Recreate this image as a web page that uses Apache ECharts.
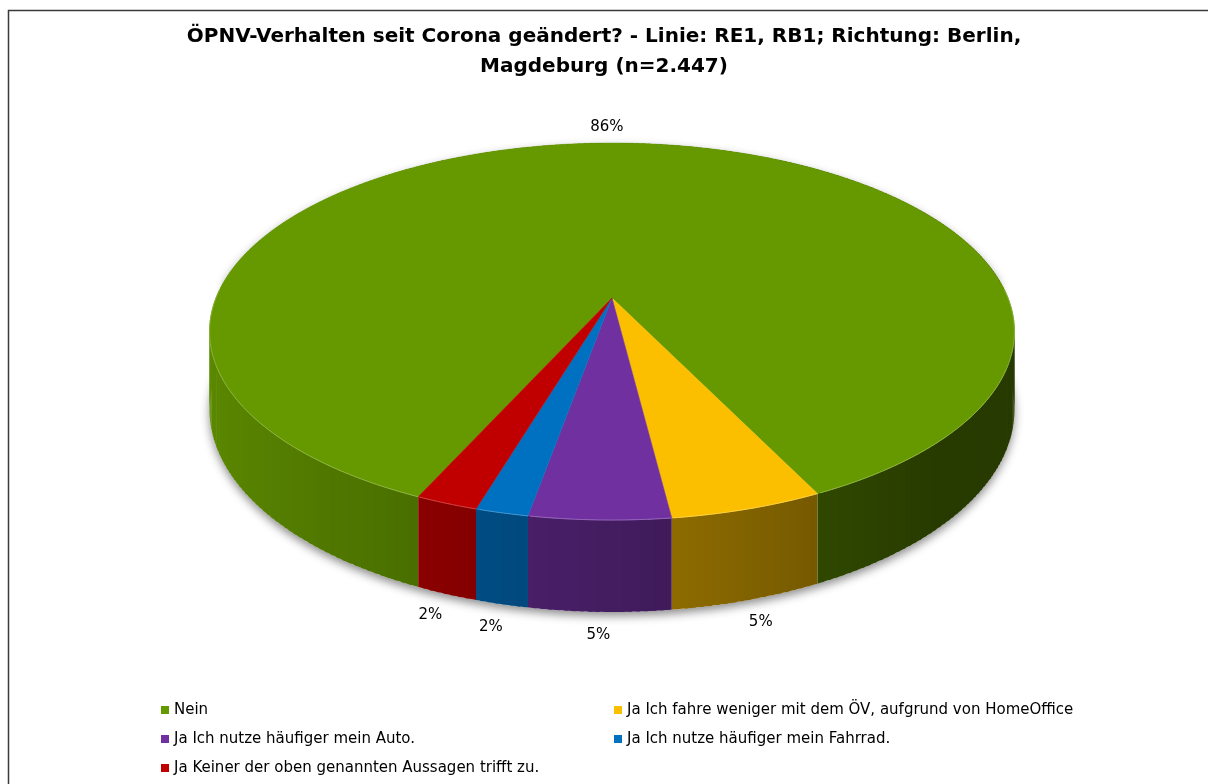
<!DOCTYPE html>
<html>
<head>
<meta charset="utf-8">
<style>
  html, body { margin: 0; padding: 0; background: #fff; }
  #chart { width: 1208px; height: 784px; }
</style>
<script src="https://cdn.jsdelivr.net/npm/echarts@6/dist/echarts.min.js"></script>
</head>
<body>
<div id="chart"></div>
<script>
// answers (legend order) and number of respondents
const categories = [
  "Nein",
  "Ja Ich fahre weniger mit dem ÖV, aufgrund von HomeOffice",
  "Ja Ich nutze häufiger mein Auto.",
  "Ja Ich nutze häufiger mein Fahrrad.",
  "Ja Keiner der oben genannten Aussagen trifft zu.",
];
const counts = [2107, 127, 117, 44, 52];
const sampleSize = 2447;

const colors = ["#669900", "#FBBF00", "#7030A0", "#0070C0", "#C00000"];

const total = counts.reduce((a, b) => a + b, 0);

// fake 3d pie: ellipse with a bit of perspective
const CX = 612, CY = 298, RX = 396, RY = 182.5, PERSP = 0.178, DEPTH = 75.6;
const START = 204.2; // first slice, degrees clockwise from 12 o'clock

const spans = [];
let acc = START;
counts.forEach((c) => {
  const s = (c / total) * 360;
  spans.push([acc, acc + s]);
  acc += s;
});

function project(cw, r, down) {
  const a = ((90 - cw) * Math.PI) / 180;
  const u = r * Math.cos(a), v = r * Math.sin(a);
  const t = 1 / (1 + PERSP * v);
  return [CX + RX * u * t, CY - RY * v * t + (down ? DEPTH * t : 0)];
}

function toRgb(hex) {
  const n = parseInt(hex.slice(1), 16);
  return [(n >> 16) & 255, (n >> 8) & 255, n & 255];
}
function tint(hex, k, target) {
  const c = toRgb(hex);
  return "rgb(" + c.map((x) => Math.round(x * k + target * (1 - k))).join(",") + ")";
}
const rad = (d) => (d * Math.PI) / 180;

function renderSlice(idx) {
  return function () {
    const [a0, a1] = spans[idx];
    const children = [];

    // soft shadow under the whole pie, only once
    if (idx === 0) {
      const pts = [];
      for (let cw = 0; cw <= 360; cw += 2) {
        pts.push(project(cw, 1, Math.cos(rad(cw)) < 0.1));
      }
      children.push({
        type: "polygon",
        z2: 0,
        shape: { points: pts },
        style: {
          fill: "#fff",
          shadowBlur: 10,
          shadowOffsetY: 4,
          shadowColor: "rgba(0,0,0,0.45)",
        },
      });
    }

    // outer wall, small steps so the light can change
    const steps = Math.max(2, Math.ceil(a1 - a0));
    for (let i = 0; i < steps; i++) {
      const s0 = a0 + ((a1 - a0) * i) / steps;
      let s1 = a0 + ((a1 - a0) * (i + 1)) / steps;
      const m = (s0 + s1) / 2;
      if (i < steps - 1) s1 += 0.4; // overlap, no seams
      const ux = Math.sin(rad(m));
      const vy = Math.cos(rad(m));
      let k = 0.6 - 0.3 * ux;
      k = Math.min(0.9, Math.max(0.38, k));
      children.push({
        type: "polygon",
        z2: 2 - vy,
        shape: {
          points: [project(s0, 1, false), project(s1, 1, false), project(s1, 1, true), project(s0, 1, true)],
        },
        style: { fill: tint(colors[idx], k, 0) },
      });
    }

    // top face
    const top = [[CX, CY]];
    for (let cw = a0; cw < a1; cw += 0.5) top.push(project(cw, 1, false));
    top.push(project(a1, 1, false));
    children.push({
      type: "polygon",
      z2: 10,
      shape: { points: top },
      style: { fill: colors[idx], stroke: colors[idx], lineWidth: 0.5 },
    });

    // light rim on the front edge (split where the edge goes to the back)
    let rim = [];
    const rims = [];
    for (let cw = a0; cw <= a1 + 0.01; cw += 0.5) {
      if (Math.cos(rad(cw)) < 0.05) {
        rim.push(project(Math.min(cw, a1), 1, false));
      } else if (rim.length) {
        rims.push(rim);
        rim = [];
      }
    }
    if (rim.length) rims.push(rim);
    rims.forEach((pts) => {
      if (pts.length < 2) return;
      children.push({
        type: "polyline",
        z2: 11,
        shape: { points: pts },
        style: { fill: null, stroke: tint(colors[idx], 0.75, 255), lineWidth: 1 },
      });
    });

    // percent label
    const mid = (a0 + a1) / 2;
    const front = Math.cos(rad(mid)) < 0;
    const p = project(mid, 1.08, front);
    children.push({
      type: "text",
      z2: 20,
      style: {
        x: p[0],
        y: front ? p[1] : p[1] - 6,
        text: Math.round((counts[idx] / total) * 100) + "%",
        fill: "#000",
        fontSize: 15,
        fontFamily: "DejaVu Sans",
        align: "center",
        verticalAlign: "middle",
      },
    });

    return { type: "group", children: children };
  };
}

const nText = String(sampleSize).replace(/\B(?=(\d{3})+(?!\d))/g, ".");

const legendBase = {
  orient: "vertical",
  top: 701,
  padding: 0,
  icon: "rect",
  itemWidth: 8,
  itemHeight: 8,
  itemGap: 11,
  selectedMode: false,
  textStyle: { fontFamily: "DejaVu Sans", fontSize: 15, lineHeight: 18, color: "#000" },
};

const chart = echarts.init(document.getElementById("chart"));
chart.setOption({
  backgroundColor: "#fff",
  animation: false,
  title: {
    text: "ÖPNV-Verhalten seit Corona geändert? - Linie: RE1, RB1; Richtung: Berlin,\nMagdeburg (n=" + nText + ")",
    left: "center",
    top: 22,
    padding: 0,
    textStyle: { fontFamily: "DejaVu Sans", fontSize: 20, fontWeight: "bold", lineHeight: 30, color: "#000" },
  },
  legend: [
    Object.assign({}, legendBase, { left: 161, data: [categories[0], categories[2], categories[4]] }),
    Object.assign({}, legendBase, { left: 614, data: [categories[1], categories[3]] }),
  ],
  graphic: [
    {
      type: "polyline",
      shape: { points: [[8.5, 784], [8.5, 10.5], [1210, 10.5]] },
      style: { fill: null, stroke: "#3a3a3a", lineWidth: 1.5 },
    },
  ],
  series: categories.map((name, i) => ({
    type: "custom",
    name: name,
    coordinateSystem: "none",
    silent: true,
    itemStyle: { color: colors[i] },
    data: [[counts[i]]],
    renderItem: renderSlice(i),
  })),
});
</script>
</body>
</html>
